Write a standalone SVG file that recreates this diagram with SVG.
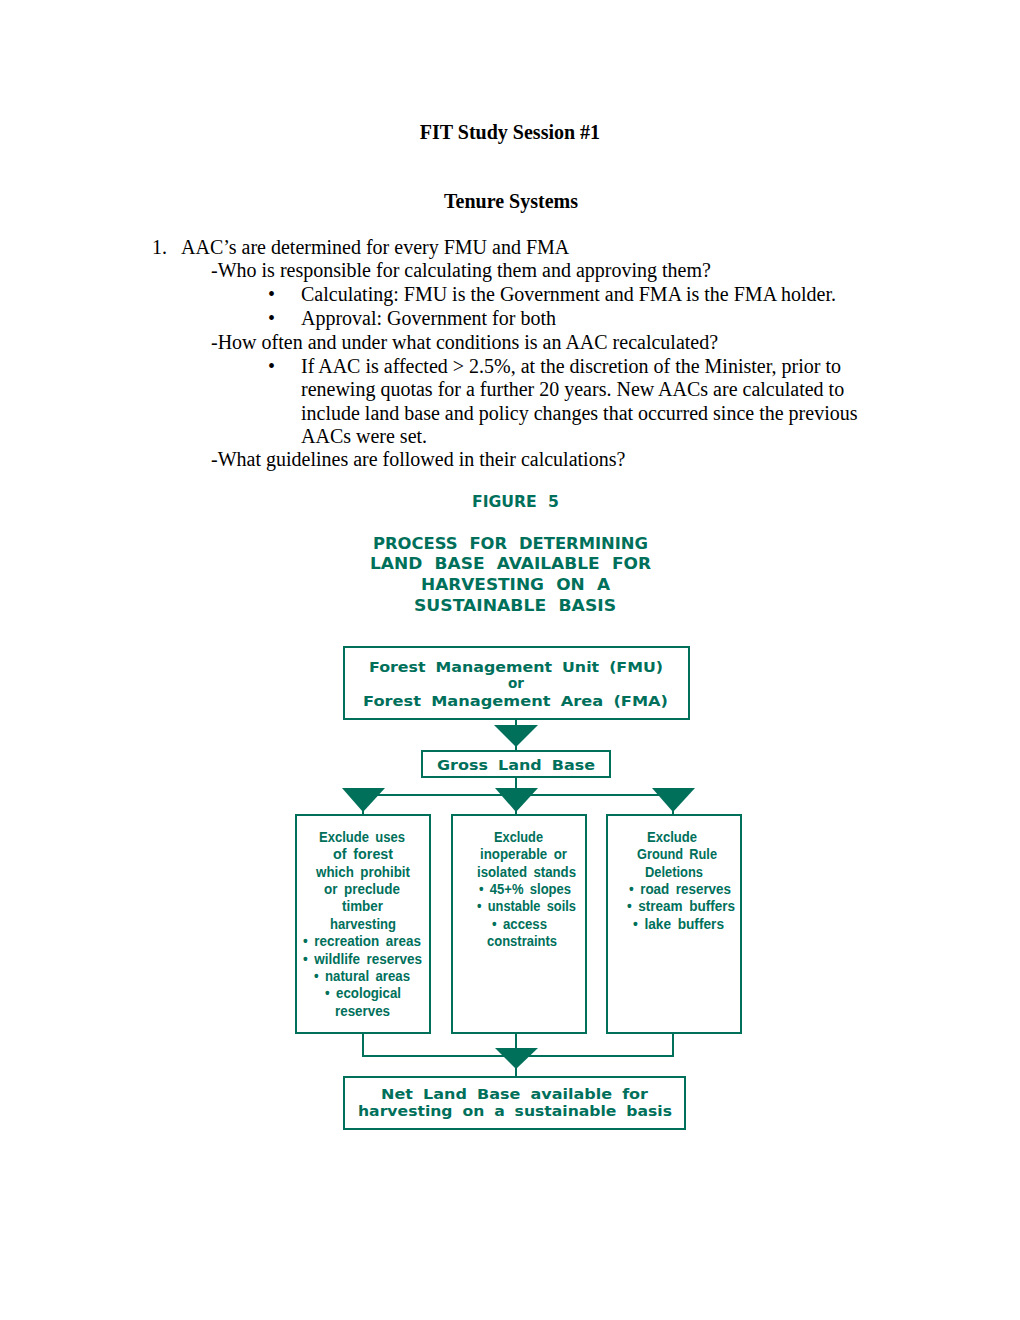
<svg xmlns="http://www.w3.org/2000/svg" width="1020" height="1320" viewBox="0 0 1020 1320">
<style>
.doc{font-family:"Liberation Serif","Times New Roman",serif;font-size:20px;fill:#000}
.b{font-weight:bold}
.fig{font-family:"Liberation Sans",Arial,sans-serif;font-weight:bold;fill:#00705b}
.wide{font-family:"DejaVu Sans","Liberation Sans",sans-serif}
.h{font-size:16px;word-spacing:6px}
.bt{font-size:14px;word-spacing:4px}
.ex{font-size:14.5px;word-spacing:3px}
.box{fill:#fff;stroke:#00705b;stroke-width:2}
.ln{fill:none;stroke:#00705b;stroke-width:2}
.tri{fill:#00705b}
</style>
<rect width="1020" height="1320" fill="#fff"/>
<g id="document-text">
<text class="doc b" x="510" y="139" text-anchor="middle">FIT Study Session #1</text>
<text class="doc b" x="511" y="208" text-anchor="middle">Tenure Systems</text>
<text class="doc" x="152" y="254">1.</text>
<text class="doc" x="181" y="254">AAC’s are determined for every FMU and FMA</text>
<text class="doc" x="211" y="277">-Who is responsible for calculating them and approving them?</text>
<text class="doc" x="268" y="301">•</text>
<text class="doc" x="301" y="301">Calculating: FMU is the Government and FMA is the FMA holder.</text>
<text class="doc" x="268" y="325">•</text>
<text class="doc" x="301" y="325">Approval: Government for both</text>
<text class="doc" x="211" y="349">-How often and under what conditions is an AAC recalculated?</text>
<text class="doc" x="268" y="373">•</text>
<text class="doc" x="301" y="373">If AAC is affected &gt; 2.5%, at the discretion of the Minister, prior to</text>
<text class="doc" x="301" y="396">renewing quotas for a further 20 years. New AACs are calculated to</text>
<text class="doc" x="301" y="420">include land base and policy changes that occurred since the previous</text>
<text class="doc" x="301" y="443">AACs were set.</text>
<text class="doc" x="211" y="466">-What guidelines are followed in their calculations?</text>
</g>
<g id="figure-title">
<text class="fig wide h" x="472" y="507" textLength="87" lengthAdjust="spacingAndGlyphs">FIGURE 5</text>
<text class="fig wide h" x="373" y="549" textLength="275" lengthAdjust="spacingAndGlyphs">PROCESS FOR DETERMINING</text>
<text class="fig wide h" x="370" y="569" textLength="281" lengthAdjust="spacingAndGlyphs">LAND BASE AVAILABLE FOR</text>
<text class="fig wide h" x="421" y="590" textLength="189" lengthAdjust="spacingAndGlyphs">HARVESTING ON A</text>
<text class="fig wide h" x="414" y="611" textLength="202" lengthAdjust="spacingAndGlyphs">SUSTAINABLE BASIS</text>
</g>
<g id="connectors">
<line class="ln" x1="516" y1="719" x2="516" y2="751"/>
<polygon class="tri" points="494,725 538,725 516,747"/>
<line class="ln" x1="516" y1="777" x2="516" y2="795"/>
<line class="ln" x1="363" y1="795" x2="673" y2="795"/>
<line class="ln" x1="363" y1="795" x2="363" y2="815"/>
<line class="ln" x1="516" y1="795" x2="516" y2="815"/>
<line class="ln" x1="673" y1="795" x2="673" y2="815"/>
<polygon class="tri" points="342,788 385,788 363,812"/>
<polygon class="tri" points="495,788 538,788 516,812"/>
<polygon class="tri" points="652,788 695,788 673,812"/>
<polyline class="ln" points="363,1033 363,1056 673,1056 673,1033"/>
<line class="ln" x1="516" y1="1033" x2="516" y2="1077"/>
<polygon class="tri" points="495,1048 538,1048 516,1069"/>
</g>
<g id="node-fmu">
<rect class="box" x="344" y="647" width="345" height="72"/>
<text class="fig wide bt" x="369" y="672" textLength="294" lengthAdjust="spacingAndGlyphs">Forest Management Unit (FMU)</text>
<text class="fig wide bt" x="508" y="688" textLength="16" lengthAdjust="spacingAndGlyphs">or</text>
<text class="fig wide bt" x="363" y="706" textLength="305" lengthAdjust="spacingAndGlyphs">Forest Management Area (FMA)</text>
</g>
<g id="node-gross">
<rect class="box" x="422" y="751" width="188" height="26"/>
<text class="fig wide bt" x="437" y="770" textLength="158" lengthAdjust="spacingAndGlyphs">Gross Land Base</text>
</g>
<g id="node-exclude-uses">
<rect class="box" x="296" y="815" width="134" height="218"/>
<text class="fig ex" x="319" y="842" textLength="86" lengthAdjust="spacingAndGlyphs">Exclude uses</text>
<text class="fig ex" x="333" y="859" textLength="60" lengthAdjust="spacingAndGlyphs">of forest</text>
<text class="fig ex" x="316" y="877" textLength="94" lengthAdjust="spacingAndGlyphs">which prohibit</text>
<text class="fig ex" x="324" y="894" textLength="76" lengthAdjust="spacingAndGlyphs">or preclude</text>
<text class="fig ex" x="342" y="911" textLength="41" lengthAdjust="spacingAndGlyphs">timber</text>
<text class="fig ex" x="330" y="929" textLength="66" lengthAdjust="spacingAndGlyphs">harvesting</text>
<text class="fig ex" x="303" y="946" textLength="118" lengthAdjust="spacingAndGlyphs">• recreation areas</text>
<text class="fig ex" x="303" y="964" textLength="119" lengthAdjust="spacingAndGlyphs">• wildlife reserves</text>
<text class="fig ex" x="314" y="981" textLength="96" lengthAdjust="spacingAndGlyphs">• natural areas</text>
<text class="fig ex" x="325" y="998" textLength="76" lengthAdjust="spacingAndGlyphs">• ecological</text>
<text class="fig ex" x="335" y="1016" textLength="55" lengthAdjust="spacingAndGlyphs">reserves</text>
</g>
<g id="node-exclude-inoperable">
<rect class="box" x="452" y="815" width="134" height="218"/>
<text class="fig ex" x="494" y="842" textLength="49" lengthAdjust="spacingAndGlyphs">Exclude</text>
<text class="fig ex" x="480" y="859" textLength="87" lengthAdjust="spacingAndGlyphs">inoperable or</text>
<text class="fig ex" x="477" y="877" textLength="99" lengthAdjust="spacingAndGlyphs">isolated stands</text>
<text class="fig ex" x="479" y="894" textLength="92" lengthAdjust="spacingAndGlyphs">• 45+% slopes</text>
<text class="fig ex" x="477" y="911" textLength="99" lengthAdjust="spacingAndGlyphs">• unstable soils</text>
<text class="fig ex" x="492" y="929" textLength="55" lengthAdjust="spacingAndGlyphs">• access</text>
<text class="fig ex" x="487" y="946" textLength="70" lengthAdjust="spacingAndGlyphs">constraints</text>
</g>
<g id="node-exclude-groundrule">
<rect class="box" x="607" y="815" width="134" height="218"/>
<text class="fig ex" x="647" y="842" textLength="50" lengthAdjust="spacingAndGlyphs">Exclude</text>
<text class="fig ex" x="637" y="859" textLength="80" lengthAdjust="spacingAndGlyphs">Ground Rule</text>
<text class="fig ex" x="645" y="877" textLength="58" lengthAdjust="spacingAndGlyphs">Deletions</text>
<text class="fig ex" x="629" y="894" textLength="102" lengthAdjust="spacingAndGlyphs">• road reserves</text>
<text class="fig ex" x="627" y="911" textLength="108" lengthAdjust="spacingAndGlyphs">• stream buffers</text>
<text class="fig ex" x="633" y="929" textLength="91" lengthAdjust="spacingAndGlyphs">• lake buffers</text>
</g>
<g id="node-net">
<rect class="box" x="344" y="1077" width="341" height="52"/>
<text class="fig wide bt" x="381" y="1099" textLength="267" lengthAdjust="spacingAndGlyphs">Net Land Base available for</text>
<text class="fig wide bt" x="358" y="1116" textLength="314" lengthAdjust="spacingAndGlyphs">harvesting on a sustainable basis</text>
</g>
</svg>
